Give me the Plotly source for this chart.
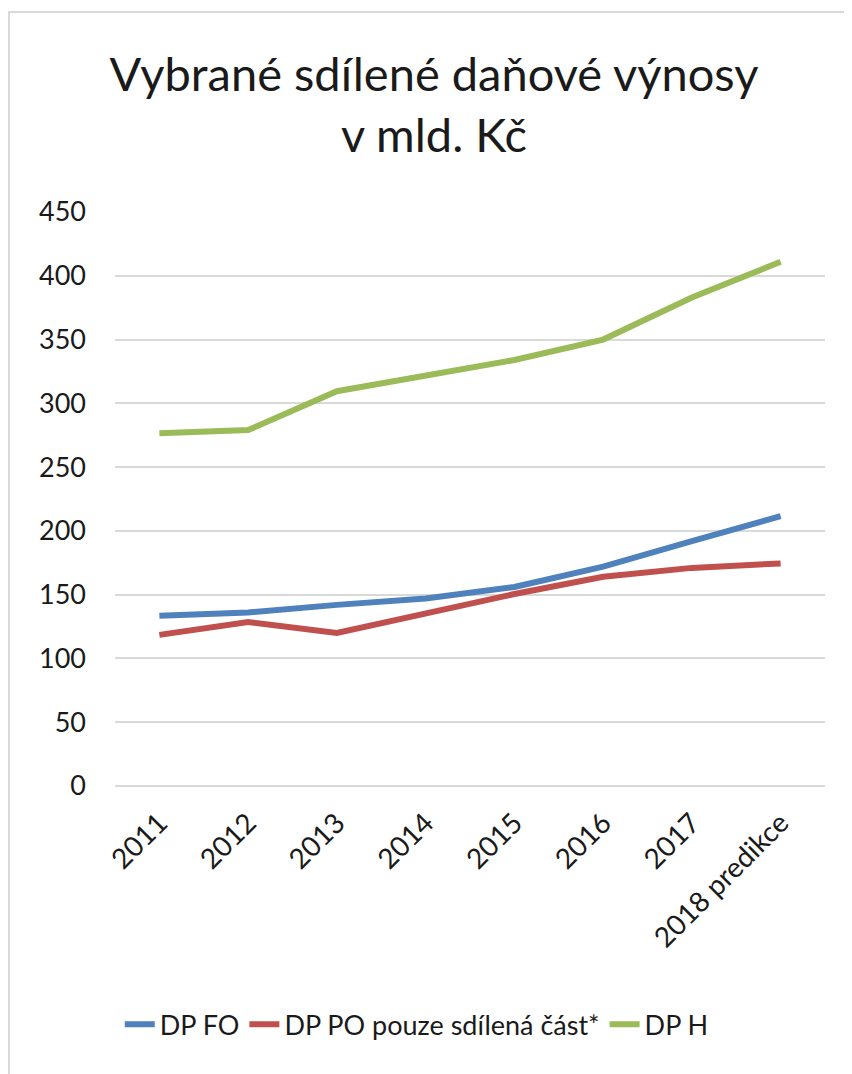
import plotly.graph_objects as go

categories = ["2011", "2012", "2013", "2014", "2015", "2016", "2017", "2018 predikce"]
dpfo = [133.5, 136, 142, 147, 156, 172, 192, 211.5]
dppo = [118.5, 128.5, 120, 135, 150.5, 164, 171, 174.5]
dph = [276.5, 279, 309.5, 322, 334, 350, 383, 411]
series_names = ["DP FO", "DP PO pouze sdílená část*", "DP H"]
colors = ["#4F81BD", "#C0504D", "#9BBB59"]
y_ticks = [0, 50, 100, 150, 200, 250, 300, 350, 400, 450]

FONT = "Lato"
TXT = "#1a1a1a"

# page body adds 8px offset; layout values below compensate
L, T = 107, 204
PW, PH = 710, 574

fig = go.Figure()
for name, vals, col in zip(series_names, [dpfo, dppo, dph], colors):
    fig.add_trace(go.Scatter(x=categories, y=vals, mode="lines", name=name,
                             line=dict(color=col, width=6)))

fig.update_layout(
    width=852, height=1074,
    paper_bgcolor="white", plot_bgcolor="white",
    margin=dict(l=L, r=852 - L - PW, t=T, b=1074 - T - PH, autoexpand=False),
    title=dict(text="Vybrané sdílené daňové výnosy<br>v mld. Kč",
               x=0.5, xanchor="center", y=1 - 83 / 1074, yanchor="middle",
               font=dict(family=FONT, size=47, color=TXT)),
    font=dict(family=FONT, color=TXT),
    showlegend=True,
    legend=dict(orientation="h", x=0.425, xanchor="center", y=-0.416, yanchor="middle",
                font=dict(family=FONT, size=27, color=TXT)),
    xaxis=dict(type="category", categoryorder="array", categoryarray=categories,
               range=[-0.5, 7.5],
               tickangle=-45, tickfont=dict(family=FONT, size=28, color=TXT),
               showgrid=False, showline=False, zeroline=False, ticks="",
               ticklabelstandoff=14, automargin=False),
    yaxis=dict(range=[0, 450], tickvals=y_ticks, ticktext=[str(v) for v in y_ticks],
               tickfont=dict(family=FONT, size=27, color=TXT),
               showgrid=True, gridcolor="#D9D9D9", gridwidth=1.5,
               zeroline=True, zerolinecolor="#D9D9D9", zerolinewidth=1.5,
               showline=False, ticks="", ticklabelstandoff=28, automargin=False),
)

# outer chart border
fig.add_shape(type="rect", xref="paper", yref="paper",
              x0=(1 - L) / PW, x1=1.3, y0=-0.7, y1=(T + PH - 4) / PH,
              line=dict(color="#D9D9D9", width=2), fillcolor="rgba(0,0,0,0)", layer="below")

fig.write_html("out.html")
